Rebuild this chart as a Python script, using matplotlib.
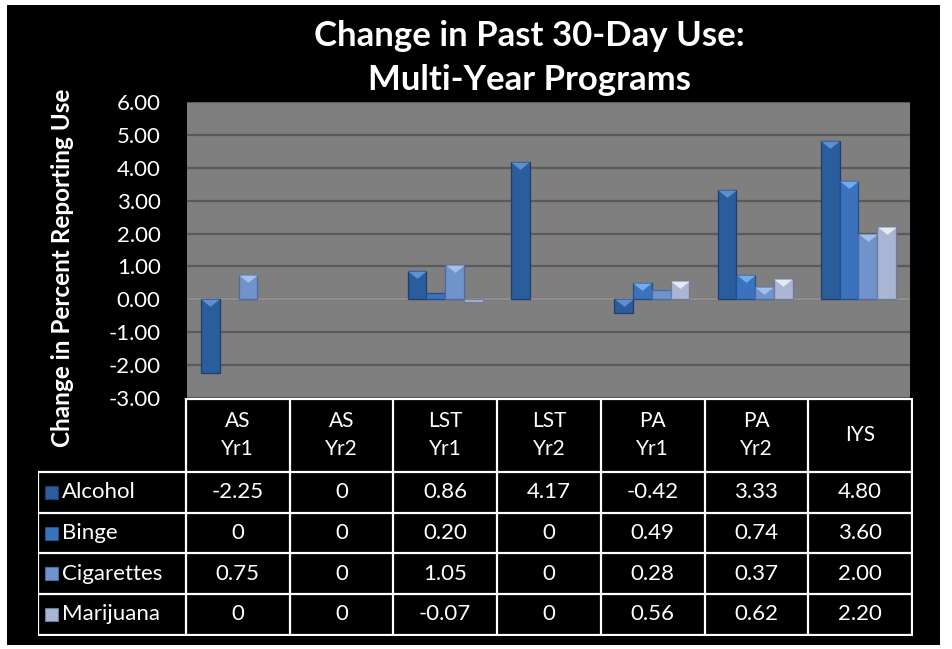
import matplotlib.pyplot as plt
import numpy as np
from matplotlib.patches import Rectangle

plt.rcParams['font.family'] = ['Lato', 'DejaVu Sans']

categories = ['AS\nYr1', 'AS\nYr2', 'LST\nYr1', 'LST\nYr2', 'PA\nYr1', 'PA\nYr2', 'IYS']
series = ['Alcohol', 'Binge', 'Cigarettes', 'Marijuana']
alcohol = [-2.25, 0, 0.86, 4.17, -0.42, 3.33, 4.80]
binge = [0, 0, 0.20, 0, 0.49, 0.74, 3.60]
cigarettes = [0.75, 0, 1.05, 0, 0.28, 0.37, 2.00]
marijuana = [0, 0, -0.07, 0, 0.56, 0.62, 2.20]
cell_text = [
    ['-2.25', '0', '0.86', '4.17', '-0.42', '3.33', '4.80'],
    ['0', '0', '0.20', '0', '0.49', '0.74', '3.60'],
    ['0.75', '0', '1.05', '0', '0.28', '0.37', '2.00'],
    ['0', '0', '-0.07', '0', '0.56', '0.62', '2.20'],
]
colors = ['#2b5c9c', '#3a72bd', '#7093cc', '#a9b5d2']
edges = ['#1d3f6e', '#24508a', '#4d6c9e', '#6f7c98']
tops = ['#5d8fd2', '#74aaee', '#a3c0ea', '#e4e9f4']

# flat triangle used as the bevel highlight on top of each bar
bevel = [(-1, 0), (1, 0), (0, -0.8), (-1, 0)]

W, H = 952, 649
fig = plt.figure(figsize=(W / 100, H / 100), dpi=100, facecolor='white')
fig.patches.append(Rectangle((7 / W, 1 - 645 / H), 933 / W, 640 / H,
                             transform=fig.transFigure, facecolor='black',
                             edgecolor='none', zorder=-10))

# chart area
ax = fig.add_axes([187 / W, 1 - 398 / H, 723 / W, 296 / H])
ax.set_facecolor('#7f7f7f')
x = np.arange(len(categories))
w = 1 / 5.5
for i, vals in enumerate([alcohol, binge, cigarettes, marijuana]):
    vals = np.array(vals)
    xs = x + (i - 1.5) * w
    ax.bar(xs, vals, w, color=colors[i], edgecolor=edges[i],
           linewidth=[0.9 if v != 0 else 0 for v in vals], zorder=3)
    m = np.abs(vals) >= 0.3
    ax.scatter(xs[m], np.maximum(vals[m], 0), marker=bevel, s=175,
               color=tops[i], linewidths=0, zorder=4)
ax.set_xlim(-0.5, len(categories) - 0.5)
ax.set_ylim(-3, 6)
ax.set_yticks(np.arange(-3, 7, 1))
ax.set_yticklabels([f'{v:.2f}' for v in np.arange(-3, 7, 1)])
ax.tick_params(axis='y', length=0, pad=19, labelsize=16, labelcolor='white')
ax.set_xticks([])
ax.grid(axis='y', color='#5a5a5a', linewidth=1.6, zorder=1)
ax.axhline(0, color='#9a9a9a', linewidth=1.2, zorder=2)
for s in ax.spines.values():
    s.set_visible(False)

fig.text(62 / W, 1 - 268 / H, 'Change in Percent Reporting Use', rotation=90,
         ha='center', va='center', color='white', fontsize=17.5, fontweight='bold')
fig.text(529 / W, 1 - 58 / H, 'Change in Past 30-Day Use:\nMulti-Year Programs',
         ha='center', va='center', color='white', fontsize=25, fontweight='bold',
         linespacing=1.45)

# data table
tx = fig.add_axes([38 / W, 1 - 636 / H, 875 / W, 238 / H])
tx.set_xlim(38, 913)
tx.set_ylim(636, 398)
tx.axis('off')
col_edges = [38] + [186 + k * 103.7 for k in range(8)]
row_edges = [398, 472, 513, 553, 594, 635]
lc = 'white'
lw = 1.6
tx.plot([186, 912], [399, 399], color=lc, lw=lw)
for xe in col_edges[1:]:
    tx.plot([xe, xe], [398, 635], color=lc, lw=lw)
tx.plot([38, 38], [472, 635], color=lc, lw=lw)
for ye in row_edges[1:]:
    tx.plot([38, 912], [ye, ye], color=lc, lw=lw)
for j, cat in enumerate(categories):
    cx = (col_edges[j + 1] + col_edges[j + 2]) / 2
    tx.text(cx, (398 + 472) / 2, cat, ha='center', va='center', color='white',
            fontsize=15, linespacing=1.55)
for r, name in enumerate(series):
    cy = (row_edges[r + 1] + row_edges[r + 2]) / 2
    tx.add_patch(Rectangle((45, cy - 6.5), 13, 13, facecolor=colors[r],
                           edgecolor=edges[r], lw=0.8))
    tx.text(62, cy, name, ha='left', va='center', color='white', fontsize=16)
    for j in range(len(categories)):
        cx = (col_edges[j + 1] + col_edges[j + 2]) / 2
        tx.text(cx, cy, cell_text[r][j], ha='center', va='center',
                color='white', fontsize=16)

fig.savefig('out.png', dpi=100, facecolor='white')
